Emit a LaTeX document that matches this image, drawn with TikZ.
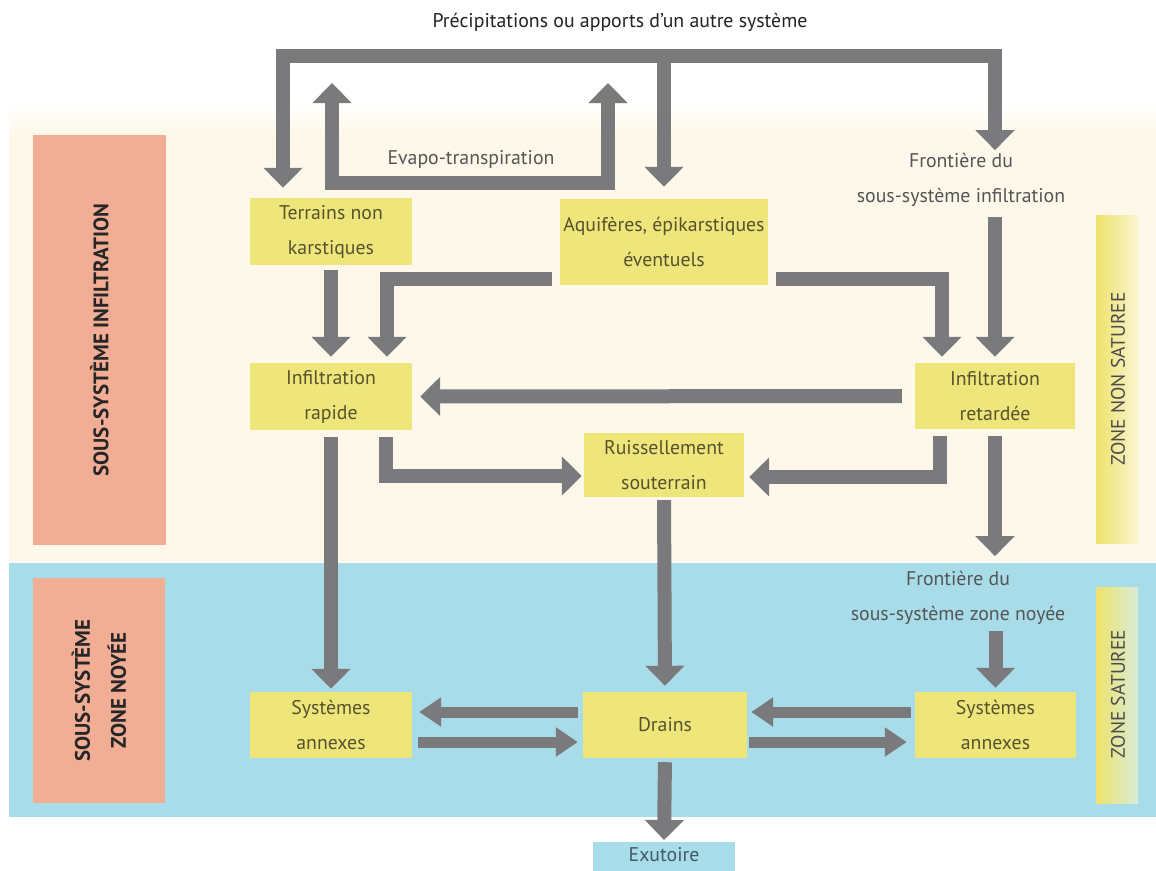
\documentclass[tikz,border=0pt]{standalone}
\usepackage{fontspec}
\setmainfont{PT Sans}
\usetikzlibrary{arrows.meta,calc}

\definecolor{cream}{HTML}{FDF8EA}
\definecolor{water}{HTML}{A9DCE9}
\definecolor{salmon}{HTML}{F2AD95}
\definecolor{boxyellow}{HTML}{EEE67A}
\definecolor{zoneyellow}{HTML}{EDE36A}
\definecolor{flowgray}{HTML}{7A797B}
\definecolor{olive}{HTML}{57522E}
\definecolor{labelgray}{HTML}{555555}
\definecolor{titlegray}{HTML}{222222}
\definecolor{outletink}{HTML}{3E5A64}

\begin{document}
\begin{tikzpicture}[x=1pt,y=-1pt,
  box/.style={fill=boxyellow, text=olive, align=center, inner sep=0pt,
    font=\fontsize{19.8}{35}\selectfont},
  lbl/.style={text=labelgray, align=center, inner sep=0pt,
    font=\fontsize{19.8}{35}\selectfont},
  subsys/.style={rotate=90, fill=salmon, text=black!85, align=center,
    inner sep=0pt, font=\bfseries\fontsize{21}{36}\selectfont},
  zonebar/.style={minimum width=42pt, inner sep=0pt},
  zonetext/.style={rotate=90, text=black!70, inner sep=0pt,
    font=\fontsize{19.5}{22}\selectfont},
  flow/.style={draw=flowgray, line width=14pt, line join=miter,
    >={Triangle[width=38pt,length=20pt]}},
  dbl/.style={flow, line width=11pt, >={Triangle[width=28pt,length=22pt]}}
]
\useasboundingbox (0,0) rectangle (1156,870);

% background bands
\fill[white] (0,0) rectangle (1156,870);
\shade[top color=white, bottom color=cream] (9,105) rectangle (1156,132);
\fill[cream] (9,132) rectangle (1156,561);
\fill[water] (9,563) rectangle (1156,817);

% sub-system labels on the left
\node[subsys, minimum width=410pt, minimum height=133pt] (ssinf) at (99.5,340)
  {SOUS-SYSTÈME INFILTRATION};
\node[subsys, minimum width=225pt, minimum height=132pt] (ssnoy) at (99,690.5)
  {SOUS-SYSTÈME\\ZONE NOYÉE};

% zone bars on the right
\node[zonebar, minimum height=328pt, left color=zoneyellow,
  right color=zoneyellow!20!cream] (zns) at (1117,379) {};
\node[zonetext] (znstext) at (1118,379) {ZONE NON SATUREE};
\node[zonebar, minimum height=216pt, left color=zoneyellow,
  right color=zoneyellow!35!water!60!white] (zs) at (1117,695) {};
\node[zonetext] (zstext) at (1118,694) {ZONE SATUREE};

% title
\node[text=titlegray, inner sep=0pt, font=\fontsize{19.8}{22}\selectfont]
  (precip) at (620,22) {Précipitations ou apports d’un autre système};

% boxes
\node[box, minimum width=162pt, minimum height=67pt] (terrains) at (331,231.5)
  {Terrains non\\karstiques};
\node[box, minimum width=208pt, minimum height=86pt] (aquif) at (664,242)
  {Aquifères, épikarstiques\\éventuels};
\node[box, minimum width=162pt, minimum height=67pt] (rapide) at (331,396.5)
  {Infiltration\\rapide};
\node[box, minimum width=160pt, minimum height=66pt] (retard) at (995,396)
  {Infiltration\\retardée};
\node[box, minimum width=160pt, minimum height=64pt] (ruiss) at (664,465)
  {Ruissellement\\souterrain};
\node[box, minimum width=162pt, minimum height=66pt] (sysL) at (331,725)
  {Systèmes\\annexes};
\node[box, minimum width=164pt, minimum height=66pt] (drains) at (665,725)
  {Drains};
\node[box, minimum width=161pt, minimum height=66pt] (sysR) at (995.5,725)
  {Systèmes\\annexes};
\node[fill=water, inner sep=0pt, minimum width=142pt, minimum height=40pt,
  anchor=north] (exut) at (664,842) {};
\node[text=outletink, inner sep=0pt, font=\fontsize{19.8}{22}\selectfont]
  (exuttext) at (664,855) {Exutoire};

% free labels
\node[lbl] (evapo) at (471,159) {Evapo-transpiration};
\node[lbl] (frontI) at (961,180) {Frontière du\\sous-système infiltration};
\node[lbl] (frontZ) at (958,598) {Frontière du\\sous-système zone noyée};

% precipitation frame
\coordinate (pL) at (283,56);
\coordinate (pC) at (664,56);
\coordinate (pR) at (995,56);
\draw[flow,<->,shorten <=10pt, shorten >=3pt]
  (pL |- terrains.north) -- (pL) -- (pR) -- (pR |- frontI.north);
\draw[flow,->,shorten >=12pt] (pC) -- (aquif.north);

% evapo-transpiration
\coordinate (evL) at (332,83);
\coordinate (evBL) at (332,183);
\coordinate (evBR) at (608,183);
\coordinate (evR) at (608,83);
\draw[flow,<->] (evL) -- (evBL) -- (evBR) -- (evR);

% infiltration sub-system
\draw[flow,->,shorten <=5pt, shorten >=6pt] (terrains.south) -- (rapide.north);
\draw[flow,->,shorten >=6pt] ($(aquif.south west)+(-8,-6)$) -| ([xshift=56pt]rapide.north);
\draw[flow,->,shorten >=6pt] ($(aquif.south east)+(8,-6)$) -| ([xshift=-53pt]retard.north);
\draw[flow,->,shorten <=10pt, shorten >=6pt] (retard.north |- frontI.south) -- (retard.north);
\draw[flow,->,shorten <=13pt, shorten >=8pt] (retard.west) -- (rapide.east);
\draw[flow,->,shorten <=7pt, shorten >=2pt] ([xshift=55pt]rapide.south) |- ($(ruiss.west)+(0,11)$);
\draw[flow,->,shorten <=7pt, shorten >=5pt] ([xshift=-55pt]retard.south) |- ($(ruiss.east)+(0,12)$);

% towards the flooded zone
\draw[flow,->,shorten <=7pt, shorten >=3pt] (rapide.south) -- (sysL.north);
\draw[flow,->,shorten <=3pt, shorten >=6pt] (ruiss.south) -- (drains.north);
\draw[flow,->,shorten <=7pt, shorten >=15pt] (retard.south) -- (retard.south |- frontZ.north);
\draw[flow,->,shorten <=6pt, shorten >=4pt] (sysR.north |- frontZ.south) -- (sysR.north);

% exchanges between drains and annex systems
\draw[dbl,->] ($(drains.west)+(-5,-13)$) -- ($(sysL.east)+(7,-13)$);
\draw[dbl,->] ($(sysL.east)+(6,17)$) -- ($(drains.west)+(-5,17)$);
\draw[dbl,->] ($(sysR.west)+(-4,-13)$) -- ($(drains.east)+(4,-13)$);
\draw[dbl,->] ($(drains.east)+(2,17)$) -- ($(sysR.west)+(-8,17)$);

% outlet
\draw[flow,->,shorten <=4pt, shorten >=2pt] (drains.south) -- (exut.north);
\end{tikzpicture}
\end{document}
